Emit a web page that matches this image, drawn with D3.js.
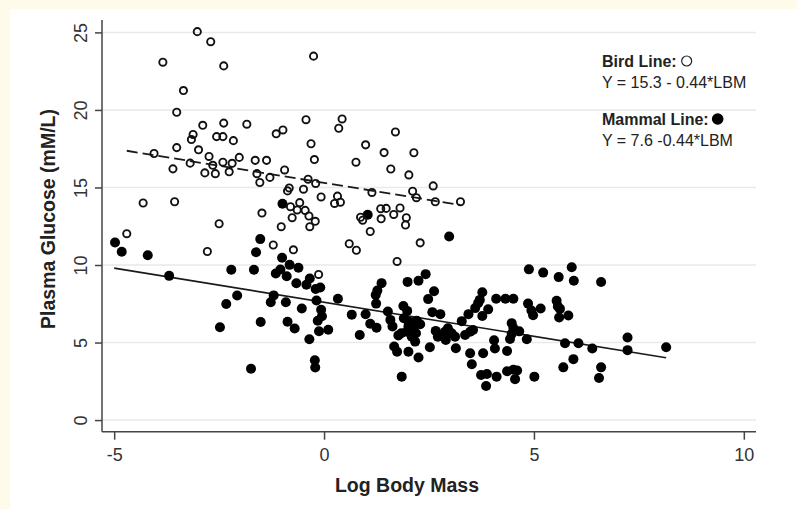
<!DOCTYPE html>
<html><head><meta charset="utf-8">
<script src="https://cdn.jsdelivr.net/npm/d3@7"></script>
<style>
html,body{margin:0;padding:0;background:#fefbea;}
svg{display:block;font-family:"Liberation Sans",Arial,sans-serif;}
</style></head>
<body>
<svg id="c" width="797" height="509"></svg>
<script>
// ---- data ----
const xTicks = [-5, 0, 5, 10];
const yTicks = [0, 5, 10, 15, 20, 25];
const xTitle = "Log Body Mass";
const yTitle = "Plasma Glucose (mM/L)";
const birdLabel = "Bird Line:";
const birdEq = "Y = 15.3 - 0.44*LBM";
const mammalLabel = "Mammal Line:";
const mammalEq = "Y = 7.6 -0.44*LBM";
const birdFit = {intercept: 15.3, slope: -0.44, from: -4.7, to: 3.25};
const mammalFit = {intercept: 7.6, slope: -0.44, from: -5.0, to: 8.15};

const birdPoints = [[-3.02,25.05],[-2.70,24.40],[-3.84,23.08],[-2.39,22.84],[-0.25,23.47],[-3.35,21.25],[-3.51,19.85],[-2.89,19.01],[-2.39,19.15],[-1.84,19.08],[-3.12,18.42],[-3.16,18.09],[-2.56,18.28],[-2.41,18.28],[-2.16,18.02],[-1.14,18.46],[-0.98,18.71],[-0.43,19.37],[0.35,18.82],[0.43,19.42],[1.70,18.58],[-2.99,17.43],[-2.74,17.00],[-3.51,17.57],[-4.05,17.19],[-3.19,16.57],[-3.60,16.20],[-2.65,16.43],[-2.41,16.63],[-2.19,16.56],[-2.02,16.94],[-2.84,15.94],[-2.59,15.89],[-2.26,16.01],[-1.64,16.75],[-1.37,16.75],[-1.60,15.89],[-1.53,15.32],[-1.29,15.65],[-0.94,16.13],[-0.31,17.82],[-0.23,16.80],[-0.38,15.53],[-0.20,15.26],[0.99,17.75],[0.76,16.63],[1.43,17.25],[1.59,16.19],[-4.31,14.00],[-3.56,14.08],[-2.50,12.66],[-1.48,13.35],[-1.02,12.47],[-0.83,14.97],[-0.87,14.78],[-0.80,13.76],[-0.58,14.02],[-0.64,13.55],[-0.76,13.05],[-0.49,14.89],[-0.45,13.52],[-0.36,13.16],[-0.34,12.47],[-0.21,12.82],[-0.07,14.39],[0.32,14.44],[0.25,13.97],[0.39,14.05],[1.14,14.68],[0.87,13.08],[0.92,12.89],[1.10,12.16],[1.35,13.63],[1.36,12.98],[1.48,13.65],[1.66,13.26],[1.81,13.68],[-4.70,12.02],[-2.78,10.87],[-1.21,11.29],[-0.73,10.98],[0.60,11.37],[0.77,10.95],[1.74,10.23],[-0.13,9.39],[2.14,17.24],[2.02,15.81],[2.60,15.10],[2.11,14.76],[2.20,14.34],[2.65,14.08],[3.25,14.08],[1.96,13.05],[1.94,12.58],[2.29,11.43]];

const mammalPoints = [[-4.98,11.45],[-4.82,10.85],[-4.20,10.63],[-3.69,9.30],[-2.21,9.69],[-1.67,9.69],[-1.62,10.82],[-1.52,11.67],[-1.00,10.47],[-0.99,13.95],[1.04,13.24],[2.98,11.84],[-2.33,7.49],[-2.07,8.03],[-2.48,5.99],[-1.51,6.33],[-1.74,3.31],[-1.27,7.60],[-1.20,8.04],[-0.91,7.60],[-1.15,9.45],[-1.04,9.71],[-0.89,9.28],[-0.82,10.01],[-0.61,9.82],[-0.66,8.82],[-0.42,8.73],[-0.34,9.13],[-0.20,8.45],[-0.09,8.55],[-0.53,7.19],[-0.87,6.34],[-0.70,5.91],[-0.18,7.71],[-0.07,7.11],[-0.05,6.69],[-0.15,6.41],[-0.12,5.73],[0.10,5.83],[-0.35,5.21],[-0.22,3.86],[-0.21,3.39],[0.33,7.82],[0.66,6.80],[0.85,5.49],[0.99,6.82],[1.10,6.21],[1.25,5.96],[1.23,8.07],[1.27,8.35],[1.37,8.83],[1.24,7.51],[1.52,7.00],[1.58,6.46],[1.63,6.04],[1.67,4.74],[1.74,4.41],[1.77,5.46],[1.84,5.60],[1.85,2.80],[1.99,8.91],[2.25,8.98],[2.42,9.41],[2.62,8.31],[2.48,7.80],[1.89,7.36],[1.98,7.04],[2.58,6.96],[2.77,6.83],[1.90,6.57],[2.01,6.35],[2.10,6.31],[2.21,6.41],[2.29,6.18],[2.01,6.03],[2.13,5.88],[2.19,5.60],[1.97,5.70],[2.09,5.38],[2.17,5.06],[2.01,4.41],[2.25,4.04],[2.52,4.70],[2.66,5.75],[2.71,5.38],[2.88,5.70],[2.95,5.92],[3.04,5.60],[2.90,5.17],[3.12,5.38],[3.14,4.63],[3.28,6.38],[3.36,5.49],[3.48,5.70],[3.55,5.81],[3.44,6.83],[3.60,7.22],[3.67,7.54],[3.77,8.24],[3.48,4.31],[3.52,3.60],[3.74,2.91],[3.86,2.20],[3.71,7.75],[4.10,7.82],[4.32,7.82],[4.51,7.82],[3.91,7.14],[3.77,6.71],[4.86,7.51],[4.94,7.07],[4.98,6.76],[5.16,7.20],[5.54,7.69],[5.57,7.33],[5.62,7.17],[5.60,6.62],[5.82,6.74],[4.88,9.72],[5.22,9.51],[5.59,9.22],[5.90,9.85],[5.95,8.98],[6.60,8.90],[4.47,6.25],[4.51,5.94],[4.65,5.72],[4.47,5.56],[4.43,5.23],[4.83,5.21],[4.05,5.15],[4.07,4.61],[3.79,4.31],[4.36,4.46],[5.74,4.95],[6.06,4.95],[6.39,4.62],[5.94,3.93],[5.70,3.40],[6.60,3.40],[6.55,2.71],[3.88,2.97],[4.11,2.80],[4.36,3.15],[4.51,3.25],[4.60,3.20],[4.55,2.64],[5.01,2.80],[7.23,5.32],[7.23,4.51],[8.15,4.70]];

// ---- drawing ----
const svg = d3.select("#c");
svg.append("rect").attr("x",10).attr("y",9).attr("width",787).attr("height",500).attr("fill","#ffffff");

const x = d3.scaleLinear().domain([-5.29, 10.29]).range([102, 756]);
const y = d3.scaleLinear().domain([-0.75, 25.8]).range([431.7, 20]);

// gridlines
svg.append("g").selectAll("line").data(yTicks).join("line")
  .attr("x1", x.range()[0]).attr("x2", x.range()[1])
  .attr("y1", d=>y(d)).attr("y2", d=>y(d))
  .attr("stroke","#e9e9e9").attr("stroke-width",1.5);

// axes
const axisColor = "#444";
const fmt = d => String(d);
const gx = svg.append("g").attr("transform",`translate(0,${y.range()[0]})`)
  .call(d3.axisBottom(x).tickValues(xTicks).tickSize(8).tickPadding(6).tickFormat(fmt));
const gy = svg.append("g").attr("transform",`translate(${x.range()[0]},0)`)
  .call(d3.axisLeft(y).tickValues(yTicks).tickSize(7).tickPadding(8).tickFormat(fmt));
[gx,gy].forEach(g=>{
  g.select(".domain").attr("stroke",axisColor).attr("stroke-width",1.5);
  g.selectAll(".tick line").attr("stroke",axisColor).attr("stroke-width",1.5);
  g.selectAll(".tick text").attr("fill","#333").style("font-size","18px").style("font-family","'Liberation Sans',Arial,sans-serif");
});
gx.select(".domain").attr("d",`M${x.range()[0]},0H${x.range()[1]}`);
gy.select(".domain").attr("d",`M0,${y.range()[0]}V${y.range()[1]}`);
gx.selectAll(".tick text").attr("dy",null).attr("y",29);
gy.selectAll(".tick text")
  .attr("x",null).attr("dy",null)
  .attr("text-anchor","middle")
  .attr("transform","translate(-15,0) rotate(-90)")
  .attr("y",0);

// fit lines
const lineGen = d3.line().x(d=>x(d[0])).y(d=>y(d[1]));
function fitPts(f){ return [[f.from, f.intercept+f.slope*f.from],[f.to, f.intercept+f.slope*f.to]]; }
svg.append("path").attr("d", lineGen(fitPts(mammalFit)))
  .attr("fill","none").attr("stroke","#1a1a1a").attr("stroke-width",1.6);
svg.append("path").attr("d", lineGen(fitPts(birdFit)))
  .attr("fill","none").attr("stroke","#1a1a1a").attr("stroke-width",1.8).attr("stroke-dasharray","11,5");

// points
svg.append("g").selectAll("circle").data(mammalPoints).join("circle")
  .attr("cx",d=>x(d[0])).attr("cy",d=>y(d[1])).attr("r",5).attr("fill","#000");
svg.append("g").selectAll("circle").data(birdPoints).join("circle")
  .attr("cx",d=>x(d[0])).attr("cy",d=>y(d[1])).attr("r",3.6)
  .attr("fill","none").attr("stroke","#111").attr("stroke-width",1.9);

// axis titles
svg.append("text").attr("x",407).attr("y",492).attr("text-anchor","middle")
  .style("font-size","19.5px").style("font-weight","bold").attr("fill","#222").text(xTitle);
svg.append("text").attr("transform","translate(55,219) rotate(-90)").attr("text-anchor","middle")
  .style("font-size","19.5px").style("font-weight","bold").attr("fill","#222").text(yTitle);

// legend
const lx = 602;
function legendBlock(label, eq, y1, y2, filled){
  const t = svg.append("text").attr("x",lx).attr("y",y1)
    .style("font-size","16px").style("font-weight","bold").attr("fill","#222").text(label);
  const w = t.node().getComputedTextLength();
  const cx = lx + w + (filled ? 9 : 10);
  const c = svg.append("circle").attr("cx",cx).attr("cy",y1-6);
  if (filled) c.attr("r",5.8).attr("fill","#000");
  else c.attr("r",5).attr("fill","none").attr("stroke","#222").attr("stroke-width",1.2);
  svg.append("text").attr("x",lx).attr("y",y2)
    .style("font-size","16px").attr("fill","#222").text(eq);
}
legendBlock(birdLabel, birdEq, 67, 87.5, false);
legendBlock(mammalLabel, mammalEq, 125, 145.5, true);
</script>
</body></html>
